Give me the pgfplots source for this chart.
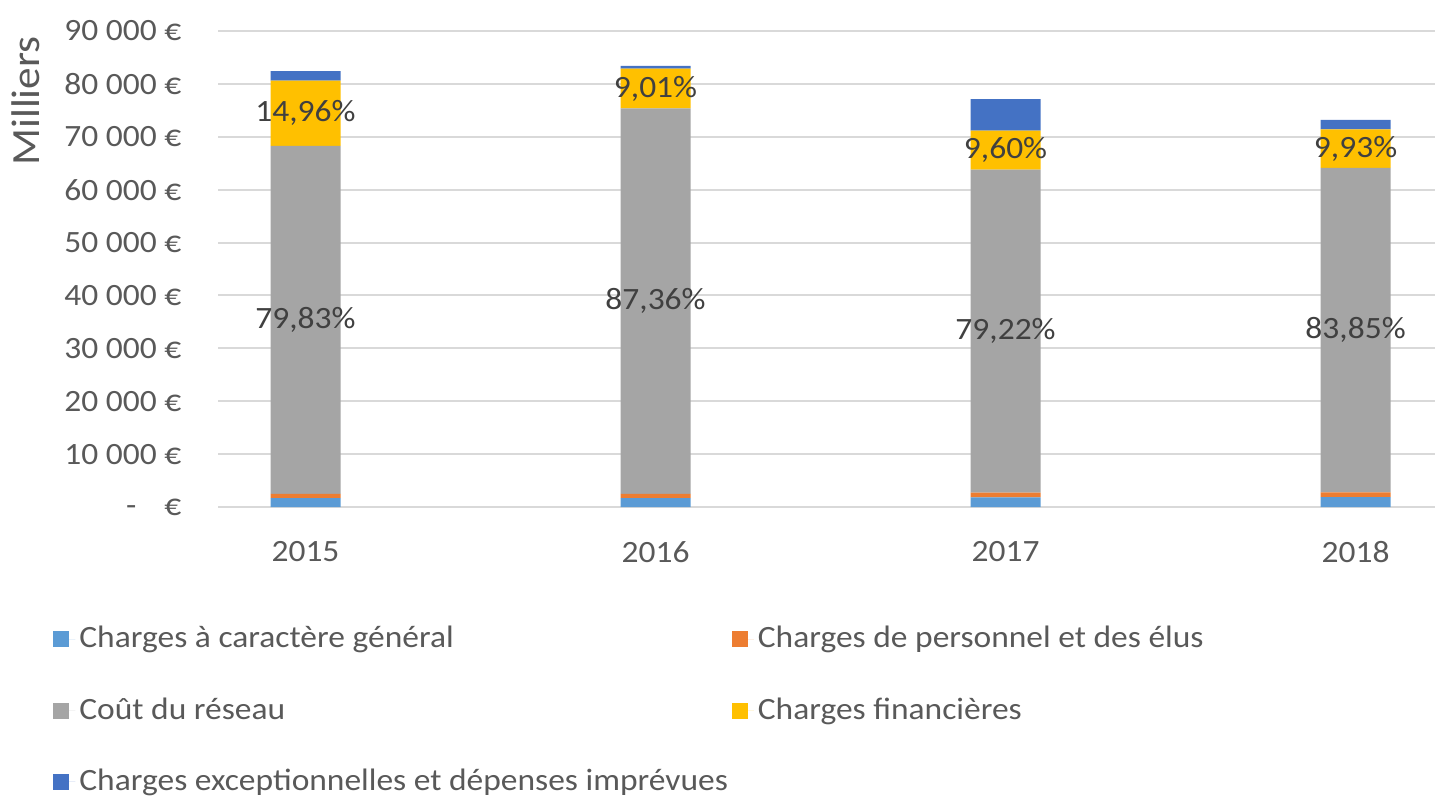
\documentclass[border=0pt]{standalone}
\usepackage{pgfplots}
\pgfplotsset{compat=1.18}
\usepackage{fontspec}
\setmainfont{Carlito}[FakeStretch=1.08]
\definecolor{cgen}{HTML}{5B9BD5}
\definecolor{cpers}{HTML}{ED7D31}
\definecolor{cres}{HTML}{A5A5A5}
\definecolor{cfin}{HTML}{FFC000}
\definecolor{cexc}{HTML}{4472C4}
\definecolor{tickgray}{HTML}{595959}
\definecolor{labgray}{HTML}{404040}
\definecolor{gridgray}{HTML}{D9D9D9}
\newcommand{\chartfont}{\fontsize{15.5}{18.6}\selectfont}
\pgfplotsset{
  myaxis/.style={scale only axis, width=608.5pt, height=238pt,
    xmin=-0.25, xmax=3.227, ymin=0, ymax=90000,
    at={(109pt,146pt)}, anchor=south west},
  sq/.style={legend image code/.code={\fill[##1] (0pt,-4pt) rectangle (8pt,4pt); \path (0pt,0pt) -- (11pt,0pt);}}
}
\begin{document}
\chartfont
\begin{tikzpicture}
\path[use as bounding box] (0,0) rectangle (717.5pt,399.5pt);
\begin{axis}[myaxis,
  ybar stacked, bar width=35pt,
  axis line style={draw=none},
  major tick length=0pt,
  scaled y ticks=false,
  ymajorgrids, grid style={color=gridgray, line width=1pt},
  xtick={0,1,2,3}, xticklabels={2015,2016,2017,2018},
  ytick={0,10000,20000,30000,40000,50000,60000,70000,80000,90000},
  yticklabels={{-\hspace{0.9em}€},{10 000 €},{20 000 €},{30 000 €},{40 000 €},{50 000 €},{60 000 €},{70 000 €},{80 000 €},{90 000 €}},
  tick label style={text=tickgray, font=\chartfont},
  yticklabel style={anchor=east, xshift=-13pt},
  xticklabel style={anchor=north, yshift=-12pt},
  every axis y label/.style={at={(rel axis cs:0,0.853)}, xshift=-96pt, rotate=90, anchor=center, text=tickgray, font=\fontsize{20}{24}\selectfont},
  ylabel={Milliers},
  legend columns=2, legend cell align=left,
  legend style={draw=none, fill=none, inner sep=0pt, at={(rel axis cs:0,0)}, anchor=north west,
    xshift=-82.5pt, yshift=-57.5pt, text=tickgray, font=\chartfont,
    /tikz/every even column/.append style={column sep=0pt}, row sep=18.5pt},
]
\addplot[sq, fill=cgen, draw=none] coordinates {(0,1700) (1,1700) (2,1800) (3,1850)};
\addlegendentry{Charges à caractère général}
\addplot[sq, fill=cpers, draw=none] coordinates {(0,800) (1,800) (2,900) (3,900)};
\addlegendentry{Charges de personnel et des élus}
\addplot[sq, fill=cres, draw=none] coordinates {(0,65780) (1,72860) (2,61080) (3,61380)};
\addlegendentry{Coût du réseau}
\addplot[sq, fill=cfin, draw=none] coordinates {(0,12330) (1,7510) (2,7400) (3,7270)};
\addlegendentry{Charges financières}
\addplot[sq, fill=cexc, draw=none] coordinates {(0,1790) (1,530) (2,5920) (3,1800)};
\addlegendentry{Charges exceptionnelles et dépenses imprévues}
\end{axis}
\begin{axis}[myaxis, hide axis, clip=false]
\addplot[only marks, mark=none, point meta=explicit,
  nodes near coords={\pgfmathprintnumber[fixed, fixed zerofill, precision=2, use comma, assume math mode=true]{\pgfplotspointmeta}\%},
  every node near coord/.append style={anchor=center, text=labgray, font=\chartfont}]
  table[x=x, y=y, meta=p] {
x y p
0 35390 79.83
0 74445 14.96
1 38930 87.36
1 79115 9.01
2 33240 79.22
2 67480 9.60
3 33440 83.85
3 67765 9.93
};
\end{axis}
\end{tikzpicture}
\end{document}
